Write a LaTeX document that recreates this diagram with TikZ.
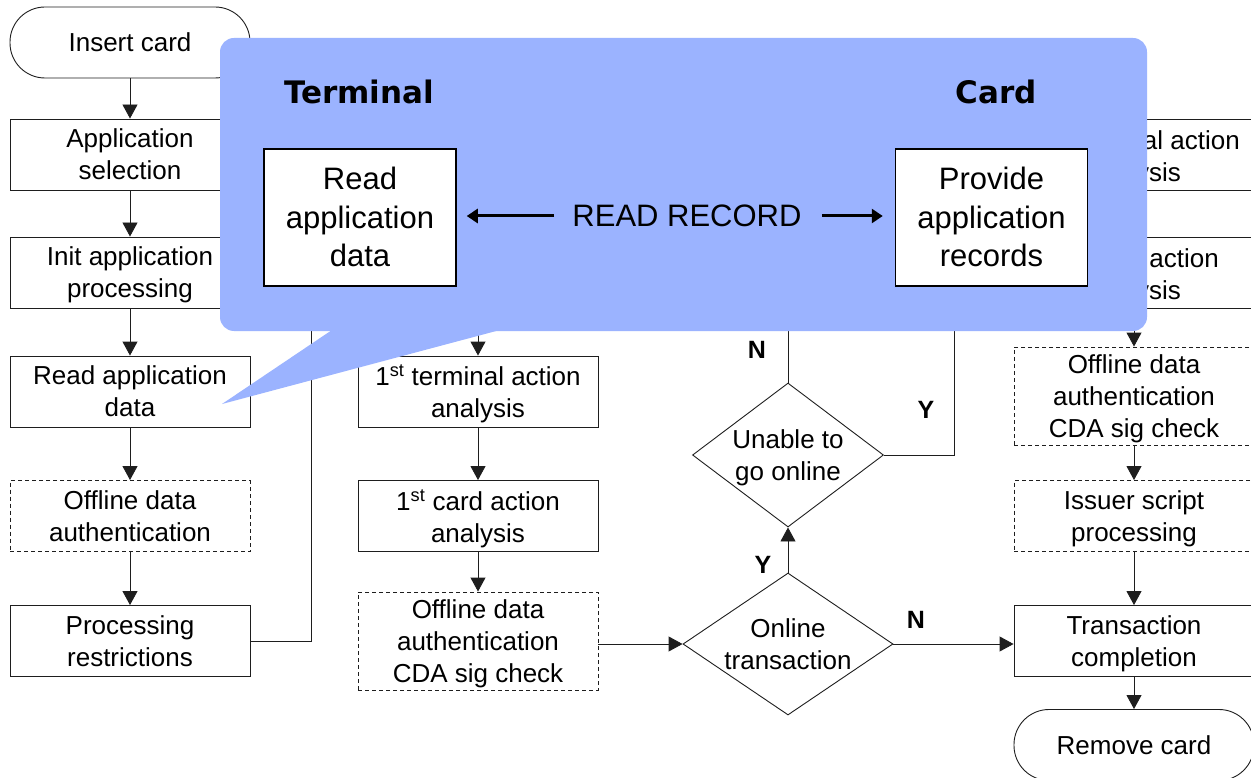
\documentclass[tikz,border=0pt]{standalone}
\usepackage{fontspec}
\setmainfont{Liberation Sans}
\newfontfamily\headfont{DejaVu Sans}
\usetikzlibrary{shapes.geometric,arrows.meta}
\definecolor{calloutblue}{RGB}{155,179,255}
\definecolor{edge}{RGB}{30,30,30}
\begin{document}
\begin{tikzpicture}[x=1pt,y=-1pt,
  line width=0.9pt,
  box/.style={draw=edge, fill=white, minimum width=240pt, minimum height=71pt,
    inner sep=0pt, align=center, text depth=0pt, font=\fontsize{26}{32}\selectfont},
  tallbox/.style={box, minimum height=98pt},
  optbox/.style={dash pattern=on 4pt off 3pt},
  termbox/.style={box, rounded corners=35pt},
  decision/.style={diamond, draw=edge, fill=white, inner sep=0pt},
  txt/.style={align=center, inner sep=0pt, text depth=0pt, font=\fontsize{26}{32}\selectfont},
  yn/.style={inner sep=0pt, font=\fontsize{25}{25}\selectfont\bfseries},
  flow/.style={draw=edge, -{Triangle[length=14pt,width=15pt]}},
  link/.style={draw=edge},
  bigbox/.style={draw=black, fill=white, line width=1.5pt, minimum width=192pt,
    minimum height=137pt, inner sep=0pt, align=center, text depth=1pt,
    font=\fontsize{31}{38.5}\selectfont},
  bigarrow/.style={line width=3pt, -{Triangle[length=11pt,width=14pt]}},
  heading/.style={inner sep=0pt, font=\headfont\bfseries\fontsize{31}{31}\selectfont}
]
\useasboundingbox (0,0) rectangle (1251,778);

% ---- left column: card insertion to processing restrictions
\node[termbox] (ins)    at (130,42.5)  {Insert card};
\node[box]     (appsel) at (130,154.5) {Application\\selection};
\node[box]     (init)   at (130,272.5) {Init application\\processing};
\node[box]     (readL)  at (130,391.5) {Read application\\data};
\node[box,optbox] (odaL) at (130,516)  {Offline data\\authentication};
\node[box]     (proc)   at (130,641)   {Processing\\restrictions};

\draw[flow] (ins) -- (appsel);
\draw[flow] (appsel) -- (init);
\draw[flow] (init) -- (readL);
\draw[flow] (readL) -- (odaL);
\draw[flow] (odaL) -- (proc);
\coordinate (upL) at (311,300);
\draw[link] (proc.east) -| (upL);

% ---- middle column: first action analyses
\node[box]     (tAA1) at (478,391.5) {1\textsuperscript{st} terminal action\\analysis};
\node[box]     (cAA1) at (478,516)   {1\textsuperscript{st} card action\\analysis};
\node[tallbox,optbox] (cdaM) at (478,641) {Offline data\\authentication\\CDA sig check};
\coordinate (inT) at (478,300);
\draw[flow] (inT) -- (tAA1);
\draw[flow] (tAA1) -- (cAA1);
\draw[flow] (cAA1) -- (cdaM);

% ---- decisions
\node[decision, minimum width=210pt, minimum height=142pt] (online) at (788,644) {};
\node[txt] (onlineT) at (online) {Online\\transaction};
\node[decision, minimum width=191pt, minimum height=144pt] (unable) at (788,455) {};
\node[txt] (unableT) at (unable) {Unable to\\go online};

\draw[flow] (cdaM.east |- online.west) -- (online.west);
\draw[flow] (online.north) -- (unable.south);
\coordinate (upN) at (788,300);
\coordinate (upY) at (954,300);
\draw[link] (unable.north) -- (upN);
\draw[link] (unable.east) -| (upY);

\node[yn] (lY1) at (763,565) {Y};
\node[yn] (lN1) at (757,350) {N};
\node[yn] (lY2) at (926,410) {Y};
\node[yn] (lN2) at (916,620) {N};

% ---- right column: second analyses to card removal
\node[box]     (tAA2) at (1134,154.5) {2\textsuperscript{nd} terminal action\\analysis};
\node[box]     (cAA2) at (1134,272.5) {2\textsuperscript{nd} card action\\analysis};
\node[tallbox,optbox] (cdaR) at (1134,396) {Offline data\\authentication\\CDA sig check};
\node[box,optbox] (isp) at (1134,516) {Issuer script\\processing};
\node[box]     (tc)   at (1134,641) {Transaction\\completion};
\node[termbox] (rem)  at (1134,745) {Remove card};

\draw[flow] (tAA2) -- (cAA2);
\draw[flow] (cAA2) -- (cdaR);
\draw[flow] (cdaR) -- (isp);
\draw[flow] (isp) -- (tc);
\draw[flow] (tc) -- (rem);
\draw[flow] (online.east) -- (tc.west |- online.east);

% ---- callout describing the READ RECORD exchange
\fill[calloutblue, rounded corners=14pt] (220,38) rectangle (1147,331);
\fill[calloutblue] (332,330) -- (222,404) -- (500,330) -- cycle;

\node[heading] (hTerm) at (359,92) {Terminal};
\node[heading] (hCard) at (996,92) {Card};
\node[bigbox] (rd) at (360,217.5) {Read\\application\\data};
\node[bigbox] (pr) at (991.5,217.5) {Provide\\application\\records};
\node[inner sep=0pt, font=\fontsize{31}{31}\selectfont] (rr) at (687,216) {READ RECORD};
\draw[bigarrow, shorten <=18pt, shorten >=10pt] (rr.west) -- (rd.east |- rr.west);
\draw[bigarrow, shorten <=20pt, shorten >=12pt] (rr.east) -- (pr.west |- rr.east);
\end{tikzpicture}
\end{document}
